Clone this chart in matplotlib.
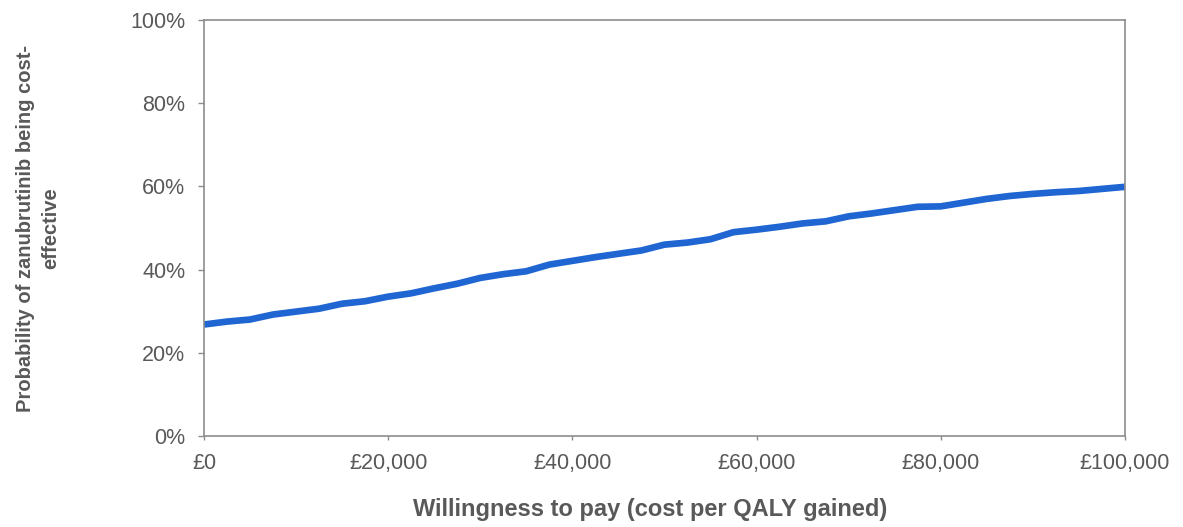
#!/usr/bin/env python3
"""Cost-effectiveness acceptability curve for zanubrutinib."""

import matplotlib

matplotlib.use("Agg")
import matplotlib.pyplot as plt
from matplotlib.ticker import FuncFormatter

# willingness-to-pay thresholds (GBP per QALY) and probability of cost-effectiveness (%)
WTP = [
    0, 2500, 5000, 7500, 10000, 12500, 15000, 17500, 20000, 22500,
    25000, 27500, 30000, 32500, 35000, 37500, 40000, 42500, 45000, 47500,
    50000, 52500, 55000, 57500, 60000, 62500, 65000, 67500, 70000, 72500,
    75000, 77500, 80000, 82500, 85000, 87500, 90000, 92500, 95000, 97500,
    100000,
]
PROB = [
    26.8, 27.5, 28.0, 29.2, 29.9, 30.6, 31.8, 32.4, 33.5, 34.3,
    35.5, 36.6, 38.0, 38.9, 39.6, 41.2, 42.1, 43.0, 43.8, 44.6,
    46.0, 46.5, 47.3, 49.0, 49.6, 50.3, 51.1, 51.6, 52.8, 53.5,
    54.3, 55.1, 55.2, 56.1, 57.0, 57.7, 58.2, 58.6, 58.9, 59.4,
    59.9,
]
X_TICKS = [0, 20000, 40000, 60000, 80000, 100000]
Y_TICKS = [0, 20, 40, 60, 80, 100]

LINE_COLOR = "#1F66D3"
TEXT_COLOR = "#595959"
AXIS_COLOR = "#8c8c8c"

plt.rcParams["font.family"] = ["Liberation Sans", "DejaVu Sans"]

fig = plt.figure(figsize=(11.83, 5.27), dpi=100)
ax = fig.add_axes([0.1724, 0.1727, 0.7785, 0.7893])

ax.plot(WTP, PROB, color=LINE_COLOR, linewidth=4.8, solid_capstyle="butt")

ax.set_xlim(0, 100000)
ax.set_ylim(0, 100)
ax.set_xticks(X_TICKS)
ax.set_yticks(Y_TICKS)
ax.xaxis.set_major_formatter(FuncFormatter(lambda v, _: f"£{v:,.0f}"))
ax.yaxis.set_major_formatter(FuncFormatter(lambda v, _: f"{v:.0f}%"))

ax.tick_params(axis="both", direction="out", width=1, color=AXIS_COLOR,
               labelsize=15.5, labelcolor=TEXT_COLOR)
ax.tick_params(axis="y", length=4.5, pad=9)
ax.tick_params(axis="x", length=3, pad=9)

for side in ("left", "bottom", "top", "right"):
    ax.spines[side].set_color(AXIS_COLOR)
    ax.spines[side].set_linewidth(1.2)

ax.set_xlabel("Willingness to pay (cost per QALY gained)", fontsize=17,
              fontweight="bold", color=TEXT_COLOR)
ax.xaxis.set_label_coords(0.484, -0.15)
ax.set_ylabel("Probability of zanubrutinib being cost-\neffective", fontsize=14.5,
              fontweight="bold", color=TEXT_COLOR, linespacing=1.4)
ax.yaxis.set_label_coords(-0.1565, 0.5)

fig.savefig("out.png", dpi=100)
